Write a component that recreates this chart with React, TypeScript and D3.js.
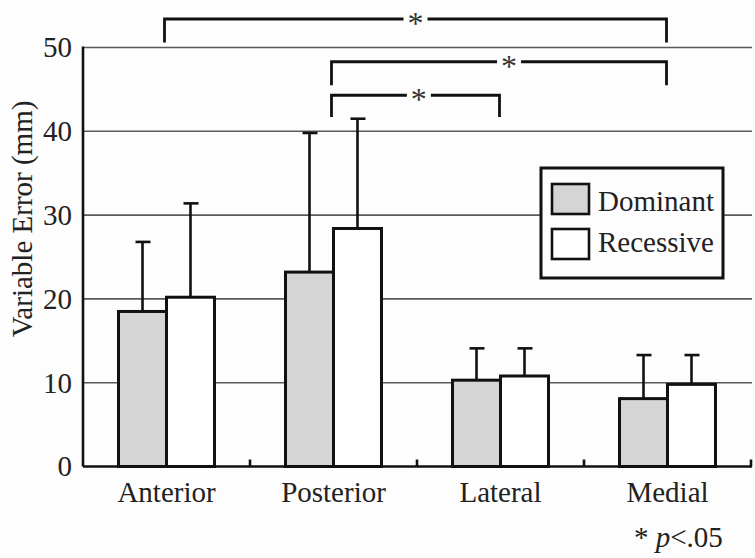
import { useEffect, useRef } from 'react';
import * as d3 from 'd3';

// values
const categories = ['Anterior', 'Posterior', 'Lateral', 'Medial'];
const groups = ['Dominant', 'Recessive'];
const dominantMeans = [18.5, 23.2, 10.3, 8.1];
const dominantSD = [8.3, 16.6, 3.8, 5.2];
const recessiveMeans = [20.2, 28.4, 10.8, 9.8];
const recessiveSD = [11.2, 13.1, 3.3, 3.5];
const yTicks = [0, 10, 20, 30, 40, 50];

// significance brackets: category pair, height of bar line and end of the drop (data units)
const bracketFrom = ['Anterior', 'Posterior', 'Posterior'];
const bracketTo = ['Medial', 'Medial', 'Lateral'];
const bracketTop = [53.4, 48.3, 44.3];
const bracketDrop = [50.6, 45.5, 41.7];
const bracketStarAt = [0.5, 0.53, 0.52];

const FONT = '"Liberation Serif", "Times New Roman", serif';
const FS = 29;

type Bar = { cat: string; group: string; mean: number; sd: number };

export default function App() {
  const svgRef = useRef<SVGSVGElement | null>(null);

  useEffect(() => {
    if (!svgRef.current) return;
    const svg = d3.select(svgRef.current);
    svg.selectAll('*').remove();

    const width = 755;
    const height = 558;
    const plot = { left: 83, right: 751, top: 47.5, bottom: 466.5 };

    svg.attr('viewBox', `0 0 ${width} ${height}`);
    svg.append('rect').attr('width', width).attr('height', height).attr('fill', '#fdfdfd');

    const x = d3.scaleBand<string>().domain(categories).range([plot.left, plot.right]).padding(0);
    const xg = d3.scaleBand<string>().domain(groups).range([0, x.bandwidth()]).paddingInner(0).paddingOuter(0.74);
    const y = d3.scaleLinear().domain([0, 50]).range([plot.bottom, plot.top]);

    const bars: Bar[] = [];
    categories.forEach((c, i) => {
      bars.push({ cat: c, group: 'Dominant', mean: dominantMeans[i], sd: dominantSD[i] });
      bars.push({ cat: c, group: 'Recessive', mean: recessiveMeans[i], sd: recessiveSD[i] });
    });
    const fill = (g: string) => (g === 'Dominant' ? '#d5d5d5' : '#ffffff');

    // horizontal grid
    svg
      .append('g')
      .selectAll('line')
      .data(yTicks.filter((t) => t > 0))
      .join('line')
      .attr('x1', plot.left)
      .attr('x2', plot.right + 1)
      .attr('y1', (d) => y(d))
      .attr('y2', (d) => y(d))
      .attr('stroke', '#5a5a5a')
      .attr('stroke-width', 1.6);

    // error bars
    const bx = (d: Bar) => (x(d.cat) ?? 0) + (xg(d.group) ?? 0) + xg.bandwidth() / 2;
    const err = svg.append('g').attr('stroke', '#111').attr('stroke-width', 2.6);
    err
      .selectAll('line.v')
      .data(bars)
      .join('line')
      .attr('class', 'v')
      .attr('x1', bx)
      .attr('x2', bx)
      .attr('y1', (d) => y(d.mean))
      .attr('y2', (d) => y(d.mean + d.sd));
    err
      .selectAll('line.cap')
      .data(bars)
      .join('line')
      .attr('class', 'cap')
      .attr('x1', (d) => bx(d) - 7)
      .attr('x2', (d) => bx(d) + 8)
      .attr('y1', (d) => y(d.mean + d.sd))
      .attr('y2', (d) => y(d.mean + d.sd));

    // bars
    svg
      .append('g')
      .selectAll('rect')
      .data(bars)
      .join('rect')
      .attr('x', (d) => (x(d.cat) ?? 0) + (xg(d.group) ?? 0))
      .attr('y', (d) => y(d.mean))
      .attr('width', xg.bandwidth())
      .attr('height', (d) => y(0) - y(d.mean))
      .attr('fill', (d) => fill(d.group))
      .attr('stroke', '#111')
      .attr('stroke-width', 3);

    // axes
    const axes = svg.append('g').attr('stroke', '#111').attr('stroke-width', 2.6);
    axes.append('line').attr('x1', plot.left).attr('x2', plot.left).attr('y1', y(0)).attr('y2', y(50) - 1);
    axes.append('line').attr('x1', plot.left).attr('x2', plot.right + 1).attr('y1', y(0)).attr('y2', y(0));
    axes
      .selectAll('line.tick')
      .data(categories)
      .join('line')
      .attr('class', 'tick')
      .attr('x1', (d) => (x(d) ?? 0) + x.bandwidth())
      .attr('x2', (d) => (x(d) ?? 0) + x.bandwidth())
      .attr('y1', y(0))
      .attr('y2', y(0) - 7);

    svg
      .append('g')
      .selectAll('text')
      .data(yTicks)
      .join('text')
      .attr('x', 72)
      .attr('y', (d) => y(d))
      .attr('dy', '0.34em')
      .attr('text-anchor', 'end')
      .attr('font-family', FONT)
      .attr('font-size', FS)
      .attr('fill', '#222')
      .text((d) => String(d));

    svg
      .append('g')
      .selectAll('text')
      .data(categories)
      .join('text')
      .attr('x', (d) => (x(d) ?? 0) + x.bandwidth() / 2)
      .attr('y', 502)
      .attr('text-anchor', 'middle')
      .attr('font-family', FONT)
      .attr('font-size', FS)
      .attr('fill', '#222')
      .text((d) => d);

    svg
      .append('text')
      .attr('transform', `translate(32, ${(98 + 340) / 2}) rotate(-90)`)
      .attr('text-anchor', 'middle')
      .attr('font-family', FONT)
      .attr('font-size', FS)
      .attr('fill', '#222')
      .text('Variable Error (mm)');

    // legend
    const lg = svg.append('g');
    lg.append('rect')
      .attr('x', 541)
      .attr('y', 168)
      .attr('width', 182)
      .attr('height', 110)
      .attr('fill', '#fdfdfd')
      .attr('stroke', '#111')
      .attr('stroke-width', 3);
    groups.forEach((g, i) => {
      lg.append('rect')
        .attr('x', 552)
        .attr('y', 184 + i * 45)
        .attr('width', 37)
        .attr('height', 30)
        .attr('fill', fill(g))
        .attr('stroke', '#111')
        .attr('stroke-width', 2.6);
      lg.append('text')
        .attr('x', 598)
        .attr('y', 211 + i * 41)
        .attr('font-family', FONT)
        .attr('font-size', FS)
        .attr('fill', '#222')
        .text(g);
    });

    // significance brackets
    const cx = (c: string) => (x(c) ?? 0) + x.bandwidth() / 2;
    const br = svg.append('g');
    bracketFrom.forEach((from, i) => {
      const x1 = cx(from) - 2;
      const x2 = cx(bracketTo[i]) - 1;
      const yt = y(bracketTop[i]);
      const yd = y(bracketDrop[i]);
      const sx = x1 + (x2 - x1) * bracketStarAt[i];
      const gap = 12;
      br.append('path')
        .attr('d', `M${x1},${yd}V${yt}H${sx - gap}M${sx + gap},${yt}H${x2}V${yd}`)
        .attr('fill', 'none')
        .attr('stroke', '#111')
        .attr('stroke-width', 2.8);
      br.append('text')
        .attr('x', sx)
        .attr('y', yt + 15)
        .attr('text-anchor', 'middle')
        .attr('font-family', FONT)
        .attr('font-size', 32)
        .attr('fill', '#333')
        .text('*');
    });

    const note = svg
      .append('text')
      .attr('x', 634)
      .attr('y', 547)
      .attr('font-family', FONT)
      .attr('font-size', FS)
      .attr('fill', '#222');
    note.append('tspan').text('* ');
    note.append('tspan').attr('font-style', 'italic').text('p');
    note.append('tspan').text('<.05');
  }, []);

  return (
    <div style={{ position: 'absolute', left: 0, top: 0 }}>
      <svg ref={svgRef} width={755} height={558} style={{ display: 'block' }} />
    </div>
  );
}
